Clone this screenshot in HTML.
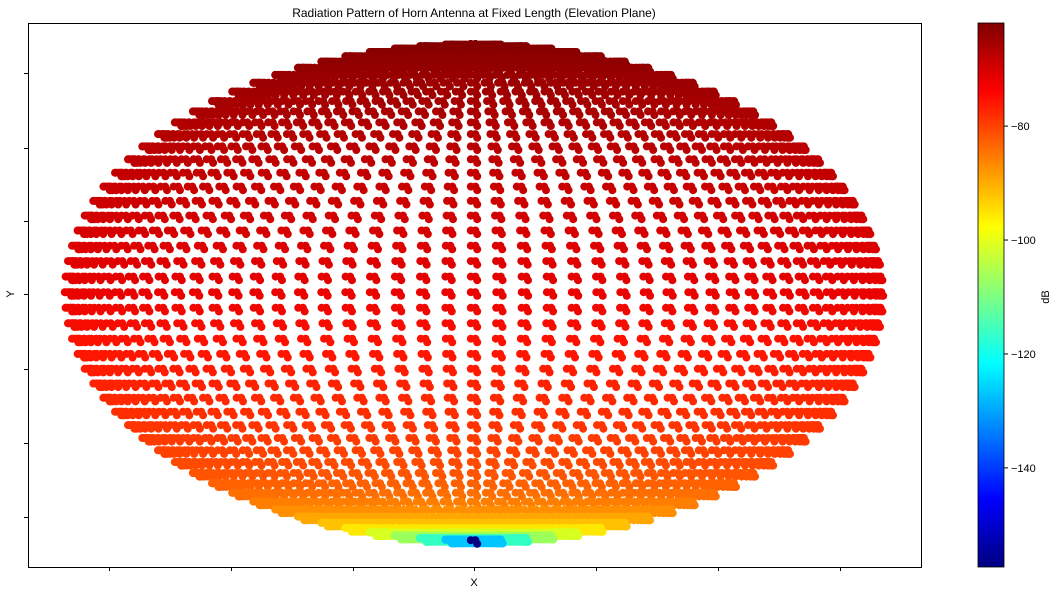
<!DOCTYPE html>
<html><head><meta charset="utf-8"><style>
body{margin:0;background:#fff;font-family:"Liberation Sans",sans-serif}
svg text{font-family:"Liberation Sans",sans-serif;fill:#000}
</style></head><body>
<svg id="c" width="1059" height="595" viewBox="0 0 1059 595">
<defs>
<linearGradient id="jet" x1="0" y1="1" x2="0" y2="0">
<stop offset="0" stop-color="#000080"/><stop offset="0.125" stop-color="#0000ff"/>
<stop offset="0.375" stop-color="#00ffff"/><stop offset="0.625" stop-color="#ffff00"/>
<stop offset="0.875" stop-color="#ff0000"/><stop offset="1" stop-color="#800000"/>
</linearGradient>
</defs>
<text x="474" y="17" font-size="12" text-anchor="middle">Radiation Pattern of Horn Antenna at Fixed Length (Elevation Plane)</text>
<g id="pts"></g>
<rect x="28.5" y="23.5" width="893" height="544" fill="none" stroke="#000" stroke-width="1"/>
<g id="ticks"></g>
<text x="474" y="586" font-size="11" text-anchor="middle">X</text>
<text x="14" y="294" font-size="11" text-anchor="middle" transform="rotate(-90 14 294)">Y</text>
<rect x="978" y="23" width="26" height="544" fill="url(#jet)" stroke="#000" stroke-width="0.8"/>
<g id="cbt"></g>
<text x="1049" y="297" font-size="11" text-anchor="middle" transform="rotate(-90 1049 297)">dB</text>
</svg>
<script>
const rowDb=[-62,-62.1,-62.2,-62.4,-62.6,-62.9,-63.2,-63.5,-63.9,-64.3,-64.7,
-65.1,-65.5,-65.9,-66.3,-66.7,-67.1,-67.5,-67.9,-68.3,-68.7,
-69.1,-69.5,-69.9,-70.3,-70.7,-71.2,-71.7,-72.2,-72.7,-73.3,
-73.9,-74.5,-75.1,-75.8,-76.5,-77.2,-78,-79,-80.2,-81.6,
-83.2,-85,-87.3,-90,-94,-99,-106,-118,-127,-157];
const cbTicks=[-80,-100,-120,-140];
const cbMin=-157.4, cbMax=-61.9;
const NS="http://www.w3.org/2000/svg";
const cx=474, cy=294, Rx=406, Ry=248;
const cbY=v=>23+(cbMax-v)/(cbMax-cbMin)*544;
function seg(t,pts){for(let i=1;i<pts.length;i++){if(t<=pts[i][0]){const a=pts[i-1],b=pts[i];return a[1]+(b[1]-a[1])*(t-a[0])/(b[0]-a[0]);}}return pts[pts.length-1][1];}
function jet(v){const t=Math.max(0,Math.min(1,(v-cbMin)/(cbMax-cbMin)));
const r=seg(t,[[0,0],[0.35,0],[0.66,1],[0.89,1],[1,0.5]]);
const g=seg(t,[[0,0],[0.125,0],[0.375,1],[0.64,1],[0.91,0],[1,0]]);
const b=seg(t,[[0,0.5],[0.11,1],[0.34,1],[0.65,0],[1,0]]);
return `rgb(${Math.round(r*255)},${Math.round(g*255)},${Math.round(b*255)})`;}
const pts=document.getElementById('pts');
const nRows=rowDb.length, dPhi=3.6;
const offs=[[-3.2,-1.8],[1.4,-1.8],[3.2,1.8]];
let html='';
for(let i=0;i<nRows;i++){
  const th=Math.PI*i/(nRows-1);
  const y=cy-Ry*Math.cos(th), s=Math.sin(th), col=jet(rowDb[i]);
  const xs=[];
  if(i===nRows-1){xs.push(cx);}else{
    for(let p=0;p<=180.01;p+=dPhi){xs.push(cx+Rx*s*Math.cos(p*Math.PI/180));}
  }
  for(const x of xs){
    for(const o of offs){html+=`<circle cx="${(x+o[0]).toFixed(1)}" cy="${(y+o[1]).toFixed(1)}" r="4" fill="${col}"/>`;}
  }
}
pts.innerHTML=html;
const ticks=document.getElementById('ticks');
const xt=[109,231,353,474,596,718,840], yt=[73,148,221,294,369,443,517];
for(const x of xt){const l=document.createElementNS(NS,'line');


l.setAttribute('x1',x+.5);l.setAttribute('x2',x+.5);l.setAttribute('y1',567);l.setAttribute('y2',571);l.setAttribute('stroke','#000');ticks.appendChild(l);}
for(const y of yt){const l=document.createElementNS(NS,'line');


l.setAttribute('x1',24);l.setAttribute('x2',28);l.setAttribute('y1',y+.5);l.setAttribute('y2',y+.5);l.setAttribute('stroke','#000');ticks.appendChild(l);}
const cbt=document.getElementById('cbt');
for(const v of cbTicks){const y=cbY(v);
const l=document.createElementNS(NS,'line');


l.setAttribute('x1',1004);l.setAttribute('x2',1008);l.setAttribute('y1',y);l.setAttribute('y2',y);l.setAttribute('stroke','#000');cbt.appendChild(l);
const t=document.createElementNS(NS,'text');


t.setAttribute('x',1011);t.setAttribute('y',y+4);t.setAttribute('font-size','11');t.textContent='\u2212'+Math.abs(v);cbt.appendChild(t);}
</script>
</body></html>
